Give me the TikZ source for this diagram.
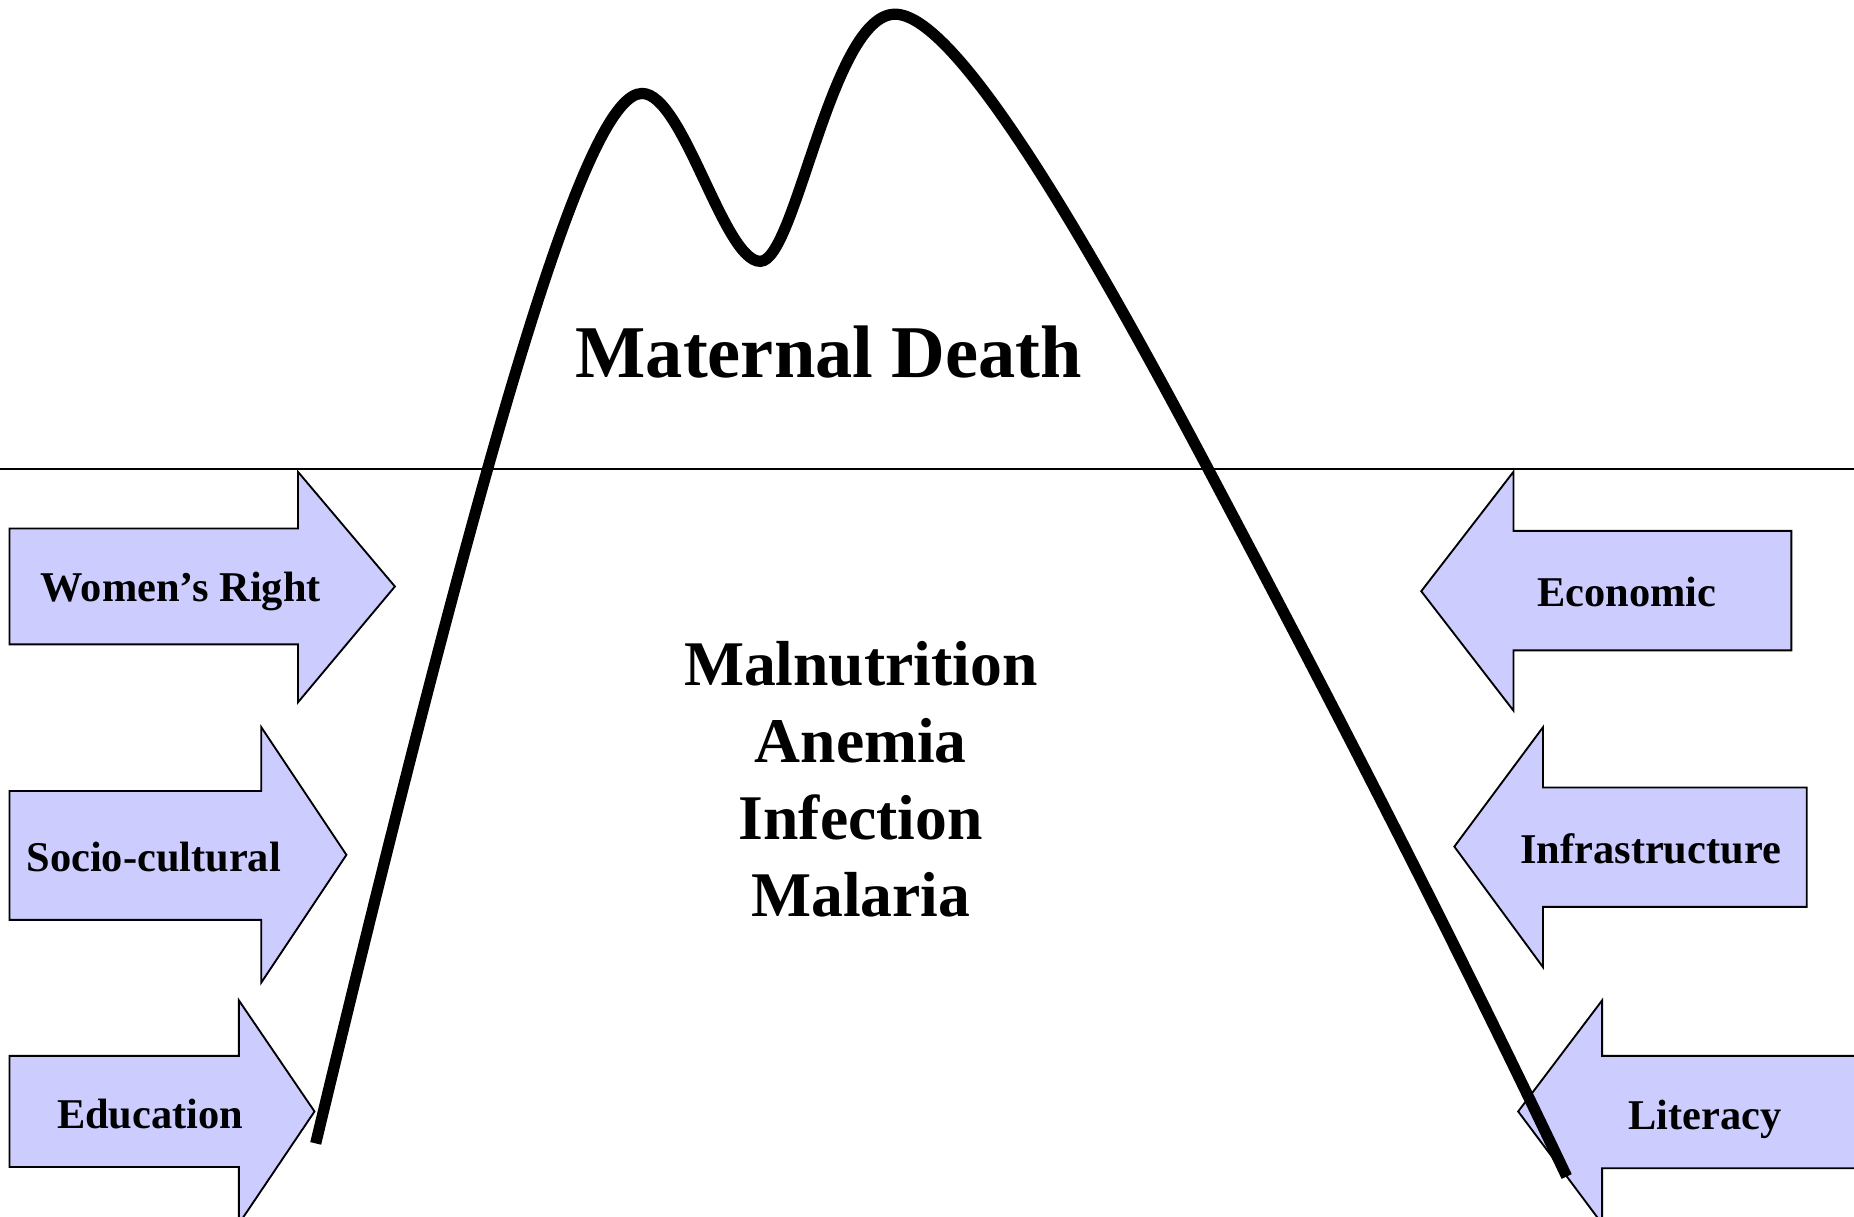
\documentclass[tikz,border=0pt]{standalone}
\usepackage{fontspec}
\setmainfont{Liberation Serif}
\usepackage{tikz}
\usetikzlibrary{positioning}
\usepackage{xcolor}
\definecolor{factorfill}{RGB}{204,204,255}

\begin{document}
\begin{tikzpicture}[x=0.01cm, y=-0.01cm,
    factor/.style={draw=black, fill=factorfill, line width=0.45pt, line join=miter},
    lbl/.style={anchor=base, inner sep=0pt, font=\fontsize{10.2}{12}\selectfont\bfseries},
    big/.style={anchor=base, inner sep=0pt, align=center, font=\fontsize{15.3}{18.5}\selectfont\bfseries},
    curve/.style={line width=2.7pt}
]
\useasboundingbox (0,0) rectangle (1568,1029);
\clip (0,0) rectangle (1568,1029);

% surface line
\coordinate (wl) at (0,397);
\coordinate (wr) at (1568,397);
\draw[line width=0.45pt] (wl) -- (wr);

% factors pushing from the left
\draw[factor] (8,447) -- (252,447) -- (252,399) -- (334,496) -- (252,594) -- (252,545) -- (8,545) -- cycle;
\draw[factor] (8,669) -- (221,669) -- (221,615) -- (293,723) -- (221,831) -- (221,778) -- (8,778) -- cycle;
\draw[factor] (8,893) -- (202,893) -- (202,846) -- (266,940) -- (202,1035) -- (202,987) -- (8,987) -- cycle;
\node[lbl] (rights) at (153,509) {Women’s Right};
\node[lbl] (socio)  at (130,737) {Socio-cultural};
\node[lbl] (edu)    at (127,954) {Education};

% factors pushing from the right
\draw[factor] (1515,449) -- (1280,449) -- (1280,399) -- (1202,500) -- (1280,601) -- (1280,550) -- (1515,550) -- cycle;
\draw[factor] (1528,666) -- (1305,666) -- (1305,615) -- (1230,716) -- (1305,818) -- (1305,767) -- (1528,767) -- cycle;
\draw[factor] (1590,893) -- (1355,893) -- (1355,846) -- (1284,940) -- (1355,1035) -- (1355,988) -- (1590,988) -- cycle;
\node[lbl] (econ)  at (1376,513) {Economic};
\node[lbl] (infra) at (1396,730) {Infrastructure};
\node[lbl] (lit)   at (1442,955) {Literacy};

% the iceberg
\coordinate (foot1) at (267,967);
\coordinate (peak1) at (543,79);
\coordinate (dip)   at (643,221);
\coordinate (peak2) at (757,12);
\coordinate (cross) at (1022,397);
\coordinate (foot2) at (1325,995);
\draw[curve] (foot1) .. controls (420,330) and (498,79) .. (peak1)
    .. controls (578,79) and (612,221) .. (dip)
    .. controls (673,221) and (703,12) .. (peak2)
    .. controls (808,12) and (916,197) .. (cross)
    .. controls (1128,597) and (1230,795) .. (foot2);

\node[big, font=\fontsize{17.9}{20}\selectfont\bfseries] (death) at (701,319) {Maternal Death};
\node[big] (causes) at (728,775) {Malnutrition\\Anemia\\Infection\\Malaria};
\end{tikzpicture}
\end{document}
